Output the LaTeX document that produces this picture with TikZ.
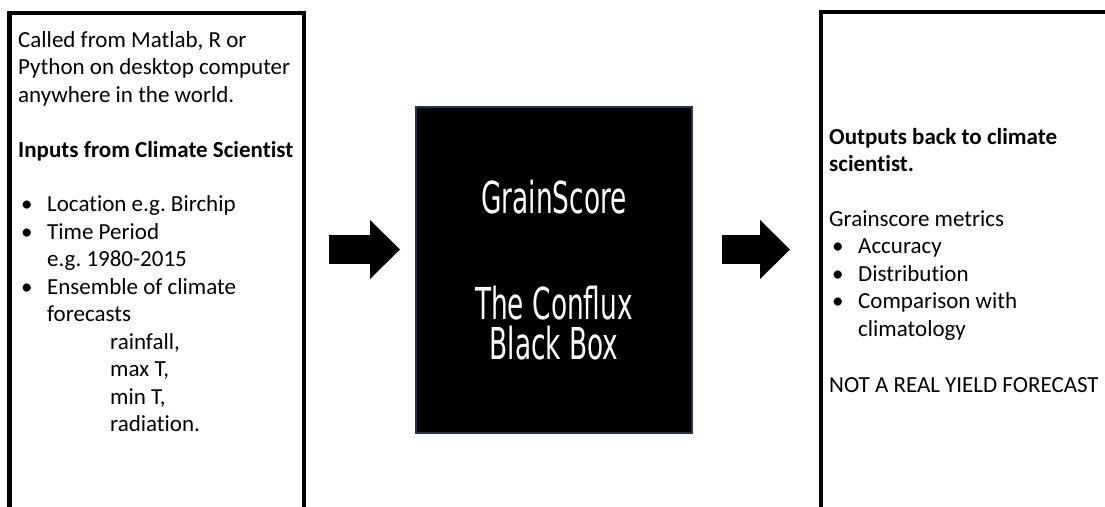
\documentclass[tikz,border=0pt]{standalone}
\usepackage{fontspec}
\setmainfont{Carlito}[Ligatures={NoCommon}]
\newfontfamily\boxfont[FakeStretch=0.6]{DejaVu Sans}
\usepackage{tikz}
\usetikzlibrary{arrows.meta, positioning}
\definecolor{cframe}{RGB}{35,52,82}
\newcommand{\itm}{\makebox[29pt][l]{\hspace*{3pt}\textbullet}}
\newcommand{\ind}{\hspace*{29pt}}
\newcommand{\subind}{\hspace*{92pt}}
\frenchspacing

\begin{document}
\begin{tikzpicture}[
    x=1pt, y=-1pt,
    every node/.style={font=\fontsize{23}{27.5}\selectfont},
    panel/.style={draw, line width=4.5pt, minimum width=294.5pt, minimum height=520pt,
        inner sep=0pt, outer sep=0pt, anchor=north west},
    listtext/.style={align=left, inner sep=0pt, anchor=north west},
    blockarrow/.style={line width=29pt, -{Triangle[length=30pt, width=59pt, line width=0pt]}},
]
    \useasboundingbox (0,0) rectangle (1105,506);
    \clip (0,0) rectangle (1105,506);

    % Side panels (run off the bottom of the slide)
    \node[panel] (inputs) at (9.5,13) {};
    \node[panel, minimum width=300pt] (outputs) at (821,12) {};

    % The black box
    \node[fill=black, draw=cframe, line width=1.2pt, minimum width=276pt, minimum height=326pt,
        inner sep=0pt, outer sep=0pt, text=white, align=center,
        font=\boxfont\fontsize{44}{40}\selectfont] (conflux) at (554,270)
        {GrainScore\\[66pt]The Conflux\\Black Box};

    % Inputs
    \node[listtext] (intext) at ([xshift=8.5pt, yshift=-14.75pt]inputs.north west)
        {\strut Called from Matlab, R or\\
         Python on desktop computer\\
         anywhere in the world.\\[28pt]
         \textbf{Inputs from Climate Scientist}\\[26.5pt]
         \itm Location e.g. Birchip\\
         \itm Time Period\\
         \ind e.g. 1980-2015\\
         \itm Ensemble of climate\\
         \ind forecasts\\
         \subind rainfall,\\
         \subind max T,\\
         \subind min T,\\
         \subind radiation.};

    % Outputs
    \node[listtext] (outtext) at ([xshift=8pt, yshift=-112.75pt]outputs.north west)
        {\strut\textbf{Outputs back to climate}\\
         \textbf{scientist.}\\[27pt]
         Grainscore metrics\\
         \itm Accuracy\\
         \itm Distribution\\
         \itm Comparison with\\
         \ind climatology\\[28.5pt]
         NOT A REAL YIELD FORECAST};

    % Block arrows
    \coordinate (arrowrow) at (0,249.5);
    \coordinate (inA) at ([xshift=25pt]inputs.east |- arrowrow);
    \coordinate (outA) at ([xshift=30pt]conflux.east |- arrowrow);
    \draw[blockarrow] (inA) -- ([xshift=-16pt]conflux.west |- arrowrow);
    \draw[blockarrow] (outA) -- ([xshift=-31pt]outputs.west |- arrowrow);
\end{tikzpicture}
\end{document}
